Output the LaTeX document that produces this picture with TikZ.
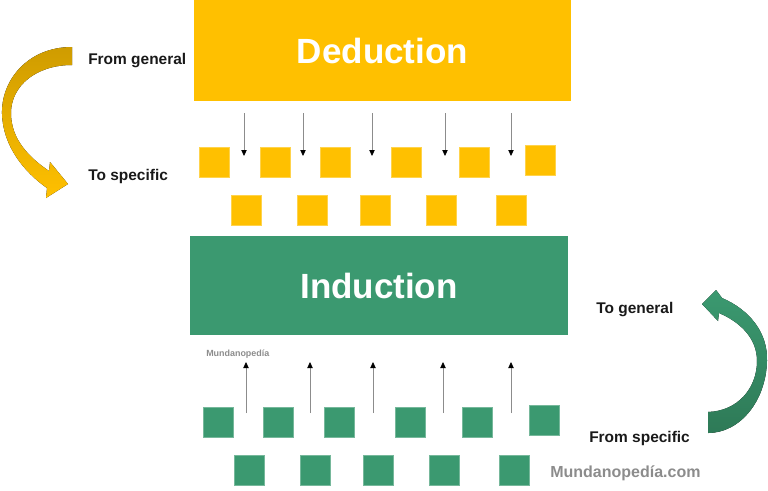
\documentclass[tikz,border=0pt]{standalone}
\usepackage{fontspec}
\setmainfont{Liberation Sans}
\usetikzlibrary{arrows.meta}

\definecolor{dedyellow}{HTML}{FFC000}
\definecolor{deddark}{HTML}{CF9C00}
\definecolor{indgreen}{HTML}{3B9970}
\definecolor{inddark}{HTML}{2E7A57}
\definecolor{markgray}{HTML}{8C8C8C}

\tikzset{
    titlebox/.style = {inner sep=0pt, text=white, font=\fontsize{26.25}{30}\selectfont\bfseries},
    sq/.style = {minimum size=22.5pt, inner sep=0pt, draw=#1!70!white, line width=0.3pt, fill=#1},
    sidelabel/.style = {anchor=base west, inner sep=0pt, text=black!90, font=\fontsize{11.6}{13}\selectfont\bfseries},
    downarrow/.style = {draw=black!45, line width=0.6pt, -{Triangle[black, length=4.5pt, width=4pt]}},
}

\begin{document}
\begin{tikzpicture}[x=0.75pt, y=-0.75pt]
        \useasboundingbox (0, 0) rectangle (768, 490);
        % boxes
        \node [titlebox, fill=dedyellow, minimum width=282.75pt, minimum height=75.75pt] (ded) at (382.5, 50.5) {Deduction};
        \node [titlebox, fill=indgreen, minimum width=283.5pt, minimum height=74.25pt] (ind) at (379, 285.5) {Induction};
        % yellow squares
        \foreach \x [count=\i] in {214, 275, 335, 406, 474} {
            \node [sq=dedyellow] (dt\i) at (\x, 162) {};
        }
        \node [sq=dedyellow] (dt6) at (540, 160) {};
        \foreach \x [count=\i] in {246, 312, 375, 441, 511} {
            \node [sq=dedyellow] (db\i) at (\x, 210) {};
        }
        % green squares
        \foreach \x [count=\i] in {218, 278, 339, 410, 477.5} {
            \node [sq=indgreen] (it\i) at (\x, 422) {};
        }
        \node [sq=indgreen] (it6) at (544, 420.5) {};
        \foreach \x [count=\i] in {249, 315, 378, 444, 514} {
            \node [sq=indgreen] (ib\i) at (\x, 470.5) {};
        }
        % arrows down
        \foreach \x [count=\i] in {244, 303, 372, 445, 511} {
            \coordinate (da\i) at (\x, 113);
            \coordinate (db\i') at (\x, 156);
            \draw [downarrow] (da\i) -- (db\i');
        }
        % arrows up
        \foreach \x [count=\i] in {246, 310, 373, 443, 511} {
            \coordinate (ua\i) at (\x, 413);
            \coordinate (ub\i) at (\x, 362);
            \draw [downarrow] (ua\i) -- (ub\i);
        }
        % curved arrows
        \fill [top color=deddark, bottom color=dedyellow]
            (72, 47) .. controls (28, 47) and (1, 80) .. (2, 114)
            .. controls (3, 146) and (24, 172) .. (47, 188)
            -- (46, 198) -- (68, 184) -- (50, 162) -- (49, 171)
            .. controls (30, 158) and (11, 140) .. (11, 113)
            .. controls (11, 86) and (36, 65) .. (72, 65) -- cycle;
        \fill [top color=indgreen, bottom color=inddark]
            (708, 412) .. controls (738, 411) and (757, 388) .. (757, 361)
            .. controls (757, 338) and (740, 322) .. (719, 313)
            -- (718, 321) -- (702, 304) -- (716, 290) -- (722, 298)
            .. controls (750, 310) and (768, 333) .. (767, 361)
            .. controls (766, 401) and (740, 433) .. (708, 433) -- cycle;
        % labels
        \node [sidelabel] (fg) at (88, 64) {From general};
        \node [sidelabel] (ts) at (88, 180) {To specific};
        \node [sidelabel] (tg) at (596, 313) {To general};
        \node [sidelabel] (fs) at (589, 442) {From specific};
        \node [anchor=base west, inner sep=0pt, text=markgray, font=\fontsize{6.7}{8}\selectfont\bfseries] (mk) at (206, 356) {Mundanopedía};
        \node [anchor=base west, inner sep=0pt, text=markgray, font=\fontsize{12}{14}\selectfont\bfseries] (mkc) at (550, 477) {Mundanopedía.com};
    \end{tikzpicture}
\end{document}
